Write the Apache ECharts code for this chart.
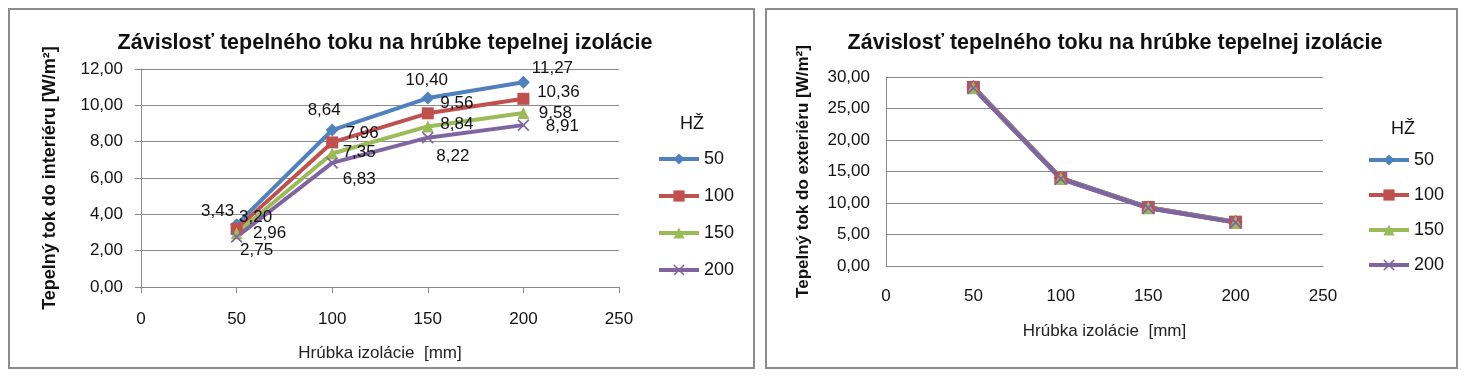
<!DOCTYPE html>
<html>
<head>
<meta charset="utf-8">
<script src="https://cdn.jsdelivr.net/npm/echarts@6/dist/echarts.min.js"></script>
<style>
html,body{margin:0;padding:0;background:#fff;}
#c{width:1480px;height:387px;}
</style>
</head>
<body>
<div id="c"></div>
<script>
// ---- data ----
const thickness = [50, 100, 150, 200];            // Hrúbka izolácie [mm]
const seriesNames = ['50', '100', '150', '200'];   // HŽ
const interior50  = [3.43, 8.64, 10.40, 11.27];
const interior100 = [3.20, 7.96, 9.56, 10.36];
const interior150 = [2.96, 7.35, 8.84, 9.58];
const interior200 = [2.75, 6.83, 8.22, 8.91];
const exterior50  = [28.40, 13.95, 9.30, 6.98];
const exterior100 = [28.35, 13.92, 9.28, 6.96];
const exterior150 = [28.30, 13.88, 9.25, 6.94];
const exterior200 = [28.25, 13.85, 9.22, 6.92];
const titleText = 'Závislosť tepelného toku na hrúbke tepelnej izolácie';
const yNameLeft = 'Tepelný tok do interiéru [W/m²]';
const yNameRight = 'Tepelný tok do exteriéru [W/m²]';
const xName = 'Hrúbka izolácie  [mm]';
const legendTitle = 'HŽ';

// ---- styles ----
const colors = ['#4F81BD', '#C0504D', '#9BBB59', '#8064A2'];
const crossPath = 'path://M0,1L1,0L5,4L9,0L10,1L6,5L10,9L9,10L5,6L1,10L0,9L4,5Z';
const symbols = ['diamond', 'rect', 'triangle', crossPath];
const symbolSizes = [13, 12, 12, 12];
// label offsets (style only) for left chart data labels
const labelOffsets = [
  [[-19,-13],[-8,-20],[-1,-18],[29,-14]],
  [[19,-12],[30,-9],[29,-10],[35,-6]],
  [[33,0],[27,-1],[29,-2],[32,0]],
  [[20,13],[27,16],[25,19],[39,1]]
];
const FONT = 'Liberation Sans';
const fmt = v => v.toFixed(2).replace('.', ',');
const gridColor = '#8a8a8a';

const interior = [interior50, interior100, interior150, interior200];
const exterior = [exterior50, exterior100, exterior150, exterior200];

function xAxisCfg(gridIndex, ticks, gap, margin) {
  return {
    type: 'value', gridIndex, min: 0, max: 250, interval: 50,
    name: xName, nameLocation: 'middle', nameGap: gap,
    nameTextStyle: {fontFamily: FONT, fontSize: 17, color: '#222'},
    axisLine: {show: true, lineStyle: {color: gridColor, width: 1}},
    axisTick: {show: ticks, length: 6, lineStyle: {color: gridColor}},
    axisLabel: {fontFamily: FONT, fontSize: 17, color: '#111', margin},
    splitLine: {show: false}
  };
}
function yAxisCfg(gridIndex, max, interval, name, gap, ticks, margin, fs, nfs) {
  return {
    type: 'value', gridIndex, min: 0, max, interval,
    name, nameLocation: 'middle', nameGap: gap,
    nameTextStyle: {fontFamily: FONT, fontSize: nfs, fontWeight: 'bold', color: '#111'},
    axisLine: {show: true, lineStyle: {color: gridColor, width: 1}},
    axisTick: {show: ticks, length: 6, lineStyle: {color: gridColor}},
    axisLabel: {fontFamily: FONT, fontSize: fs, color: '#111', margin, formatter: v => fmt(v)},
    splitLine: {show: true, lineStyle: {color: gridColor, width: 1}}
  };
}

const series = [];
interior.forEach((vals, i) => {
  series.push({
    name: seriesNames[i], type: 'line', xAxisIndex: 0, yAxisIndex: 0,
    data: vals.map((v, j) => ({
      value: [thickness[j], v],
      label: {offset: labelOffsets[i][j]}
    })),
    symbol: symbols[i], symbolSize: symbolSizes[i],
    lineStyle: {color: colors[i], width: 4},
    itemStyle: {color: colors[i]},
    label: {show: true, position: 'inside', fontFamily: FONT, fontSize: 17, color: '#111',
      formatter: p => fmt(p.value[1])},
    emphasis: {disabled: true},
    animation: false
  });
});
exterior.forEach((vals, i) => {
  series.push({
    name: seriesNames[i], type: 'line', xAxisIndex: 1, yAxisIndex: 1,
    data: vals.map((v, j) => [thickness[j], v]),
    symbol: symbols[i], symbolSize: symbolSizes[i] + 1,
    lineStyle: {color: colors[i], width: 4.5},
    itemStyle: {color: colors[i]},
    emphasis: {disabled: true},
    animation: false
  });
});

const legendBase = {
  orient: 'vertical', itemWidth: 40, itemHeight: 14, data: seriesNames,
  lineStyle: {width: 4},
  textStyle: {fontFamily: FONT, fontSize: 18, color: '#111'}
};

const chart = echarts.init(document.getElementById('c'), null, {renderer: 'canvas'});
chart.setOption({
  backgroundColor: '#fff',
  animation: false,
  title: [
    {text: titleText, left: 380, top: 27, textAlign: 'center',
     textStyle: {fontFamily: FONT, fontSize: 21.5, fontWeight: 'bold', color: '#111'}},
    {text: titleText, left: 1110, top: 27, textAlign: 'center',
     textStyle: {fontFamily: FONT, fontSize: 21.5, fontWeight: 'bold', color: '#111'}},
    {text: legendTitle, left: 687, top: 110, textAlign: 'center',
     textStyle: {fontFamily: FONT, fontSize: 18, fontWeight: 'normal', color: '#111'}},
    {text: legendTitle, left: 1398, top: 115, textAlign: 'center',
     textStyle: {fontFamily: FONT, fontSize: 18, fontWeight: 'normal', color: '#111'}}
  ],
  legend: [
    Object.assign({}, legendBase, {left: 652, top: 145, itemGap: 19}),
    Object.assign({}, legendBase, {left: 1362, top: 146, itemGap: 17})
  ],
  grid: [
    {left: 141, top: 69, width: 478, height: 218, containLabel: false},
    {left: 886, top: 77, width: 437, height: 189, containLabel: false}
  ],
  xAxis: [xAxisCfg(0, true, 58, 24), xAxisCfg(1, false, 57, 22)],
  yAxis: [
    yAxisCfg(0, 12, 2, yNameLeft, 82, true, 18, 17, 18),
    yAxisCfg(1, 30, 5, yNameRight, 74, false, 16, 17, 17)
  ],
  graphic: [
    {type: 'rect', shape: {x: 9, y: 9, width: 745, height: 359}, silent: true, z: -1,
     style: {fill: 'none', stroke: '#8c8c8c', lineWidth: 2}},
    {type: 'rect', shape: {x: 766, y: 9, width: 691, height: 359}, silent: true, z: -1,
     style: {fill: 'none', stroke: '#8c8c8c', lineWidth: 2}}
  ],
  series
});
</script>
</body>
</html>
